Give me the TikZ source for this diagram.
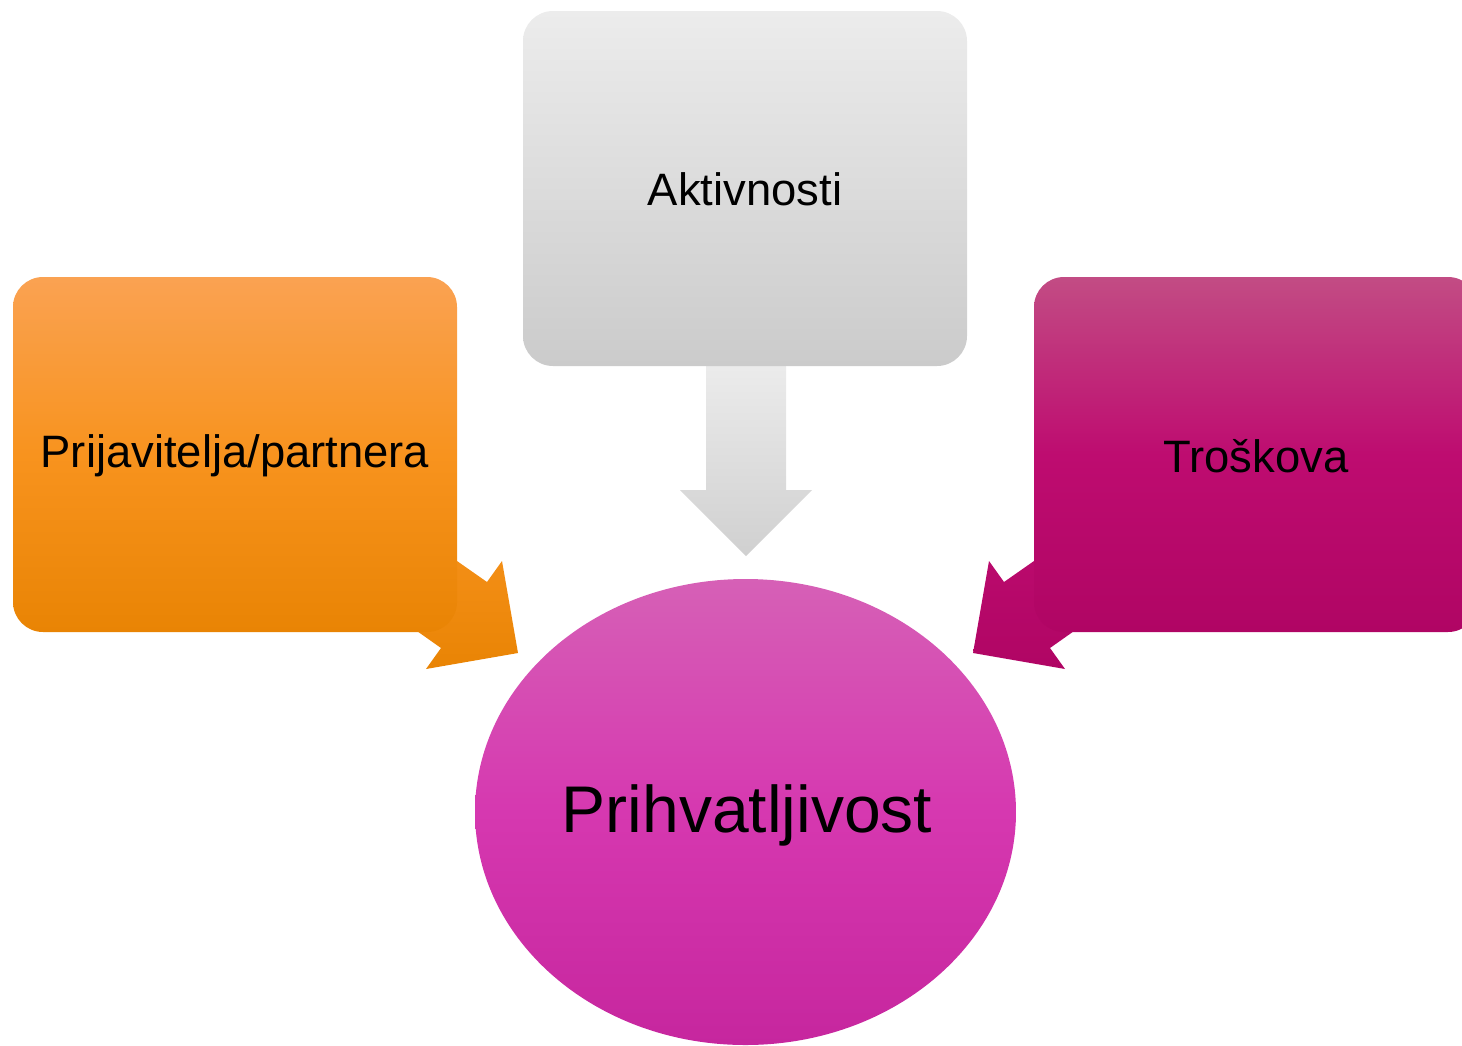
\documentclass[tikz,border=0pt]{standalone}
\usepackage{fontspec}
\setmainfont{Liberation Sans}
\usetikzlibrary{shapes.geometric}
\definecolor{orTop}{RGB}{250,162,82}
\definecolor{orMid}{RGB}{248,147,30}
\definecolor{orBot}{RGB}{233,132,4}
\definecolor{mgTop}{RGB}{194,76,132}
\definecolor{mgMid}{RGB}{190,12,112}
\definecolor{mgBot}{RGB}{176,5,100}
\definecolor{gyTop}{RGB}{236,236,236}
\definecolor{gyBot}{RGB}{203,203,203}
\definecolor{elTop}{RGB}{214,96,182}
\definecolor{elMid}{RGB}{214,56,176}
\definecolor{elBot}{RGB}{198,38,158}
\tikzset{
  card/.style={rounded corners=15pt, minimum width=222pt, minimum height=177.5pt, inner sep=0pt},
  orangecard/.style={card, top color=orTop, bottom color=orBot, middle color=orMid},
  greycard/.style={card, top color=gyTop, bottom color=gyBot},
  magcard/.style={card, top color=mgTop, bottom color=mgBot, middle color=mgMid},
  cardtext/.style={font=\fontsize{22.7}{27}\selectfont},
}
\begin{document}
\begin{tikzpicture}[x=0.5pt,y=-0.5pt]
\useasboundingbox (0,0) rectangle (1462,1045);
% block arrows (behind cards)
\coordinate (ltip) at (518,653);
\coordinate (rtip) at (973,653);
\coordinate (dtip) at (746,556);
\shade[top color=orMid, bottom color=orBot]
  (ltip) -- (426,669) -- (441,648) -- (339.6,576.4) -- (385.6,511) -- (487,582) -- (502,561) -- cycle;
\shade[top color=mgMid, bottom color=mgBot]
  (rtip) -- (1065,669) -- (1050,648) -- (1151.4,576.4) -- (1105.4,511) -- (1004,582) -- (989,561) -- cycle;
\shade[top color=gyTop, bottom color={rgb,255:red,208;green,208;blue,208}]
  (dtip) -- (680,490) -- (706,490) -- (706,360) -- (786,360) -- (786,490) -- (812,490) -- cycle;
% cards
\node[orangecard] (app) at (235,454.5) {};
\node[greycard] (act) at (745,188.5) {};
\begin{scope}
\clip (0,0) rectangle (1462,1045);
\node[magcard] (cost) at (1256,454.5) {};
\end{scope}
\node[cardtext] (appT) at (235,456) {Prijavitelja/partnera};
\node[cardtext] (actT) at (745,189) {Aktivnosti};
\node[cardtext] (costT) at (1256,456) {Troškova};
% ellipse
\node[ellipse, minimum width=270.5pt, minimum height=233pt, inner sep=0pt,
  top color=elTop, bottom color=elBot, middle color=elMid] (acc) at (745.5,812) {};
\node[font=\fontsize{33}{38}\selectfont] (accT) at (747,815) {Prihvatljivost};
\end{tikzpicture}
\end{document}
